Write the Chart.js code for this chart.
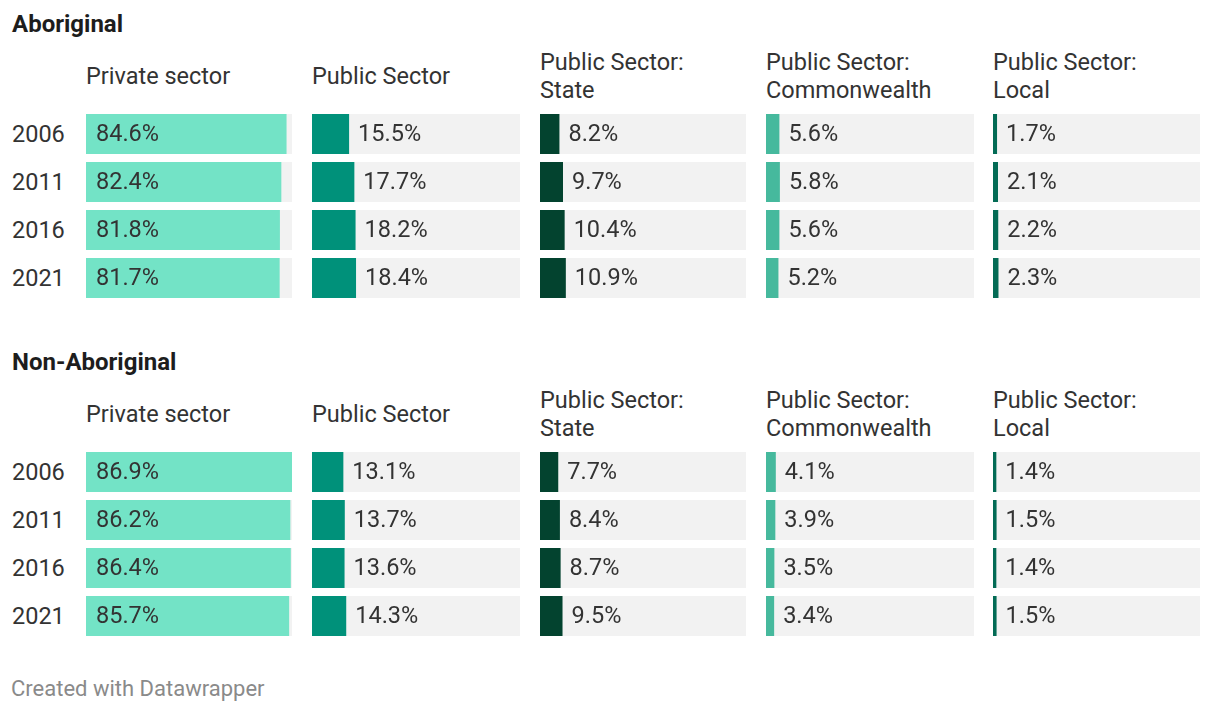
<!DOCTYPE html>
<html>
<head>
<meta charset="utf-8">
<script src="https://cdn.jsdelivr.net/npm/chart.js@4.4.1/dist/chart.umd.min.js"></script>
<style>
    body { margin: 0; background: #fff; font-family: Roboto, sans-serif; }
    #wrap { position: relative; width: 1220px; height: 712px; overflow: hidden; }
    .title { position: absolute; left: 12px; font-weight: 700; font-size: 24px; color: #1d1d1d; line-height: 28px; }
    .head { position: absolute; height: 56px; display: flex; flex-direction: column; justify-content: center; font-size: 23.5px; line-height: 28px; color: #333; white-space: nowrap; }
    .year { position: absolute; left: 12px; font-size: 23.5px; line-height: 28px; color: #333; }
    .cell { position: absolute; }
    .foot { position: absolute; left: 11px; top: 676px; font-size: 22px; line-height: 26px; color: #8a8a8a; }
</style>
</head>
<body>
<div id="wrap"></div>
<script>
// Data
const years = ['2006', '2011', '2016', '2021'];
const groups = ['Aboriginal', 'Non-Aboriginal'];
const sectors = [['Private sector'], ['Public Sector'], ['Public Sector:', 'State'], ['Public Sector:', 'Commonwealth'], ['Public Sector:', 'Local']];
const sectorColors = ['#73e3c6', '#00917a', '#03432f', '#46b99d', '#036b55'];

const aboriginalPrivate = [84.6, 82.4, 81.8, 81.7];
const aboriginalPublic = [15.5, 17.7, 18.2, 18.4];
const aboriginalState = [8.2, 9.7, 10.4, 10.9];
const aboriginalCommonwealth = [5.6, 5.8, 5.6, 5.2];
const aboriginalLocal = [1.7, 2.1, 2.2, 2.3];

const nonAboriginalPrivate = [86.9, 86.2, 86.4, 85.7];
const nonAboriginalPublic = [13.1, 13.7, 13.6, 14.3];
const nonAboriginalState = [7.7, 8.4, 8.7, 9.5];
const nonAboriginalCommonwealth = [4.1, 3.9, 3.5, 3.4];
const nonAboriginalLocal = [1.4, 1.5, 1.4, 1.5];

const groupData = [
    [aboriginalPrivate, aboriginalPublic, aboriginalState, aboriginalCommonwealth, aboriginalLocal],
    [nonAboriginalPrivate, nonAboriginalPublic, nonAboriginalState, nonAboriginalCommonwealth, nonAboriginalLocal]
];

// shared scale across all small bars
const maxValue = Math.max(...groupData.flat(2));

const wrap = document.getElementById('wrap');
const colLeft = [86, 312, 540, 766, 993];
const colWidth = [206, 208, 206, 208, 207];
const rowHeight = 48;

// gray track behind each bar + value labels
const cellPlugin = {
    id: 'cellPlugin',
    beforeDatasetsDraw(chart) {
        const ctx = chart.ctx;
        const area = chart.chartArea;
        ctx.save();
        ctx.fillStyle = '#f2f2f2';
        chart.getDatasetMeta(0).data.forEach(bar => {
            ctx.fillRect(area.left, bar.y - bar.height / 2, area.right - area.left, bar.height);
        });
        ctx.restore();
    },
    afterDatasetsDraw(chart) {
        const ctx = chart.ctx;
        const values = chart.data.datasets[0].data;
        const inside = chart.options.plugins.cellPlugin.inside;
        ctx.save();
        ctx.font = '23.5px Roboto';
        ctx.fillStyle = '#333';
        ctx.textBaseline = 'middle';
        chart.getDatasetMeta(0).data.forEach((bar, i) => {
            const x = inside ? bar.base + 10 : bar.x + 9;
            ctx.fillText(values[i].toFixed(1) + '%', x, bar.y + 1);
        });
        ctx.restore();
    }
};

groups.forEach((name, g) => {
    const top = g * 338;

    const title = document.createElement('div');
    title.className = 'title';
    title.style.top = (10 + top) + 'px';
    title.textContent = name;
    wrap.appendChild(title);

    years.forEach((y, r) => {
        const el = document.createElement('div');
        el.className = 'year';
        el.style.top = (120 + top + r * rowHeight) + 'px';
        el.textContent = y;
        wrap.appendChild(el);
    });

    sectors.forEach((lines, s) => {
        const head = document.createElement('div');
        head.className = 'head';
        head.style.left = colLeft[s] + 'px';
        head.style.top = (48 + top) + 'px';
        lines.forEach(l => {
            const d = document.createElement('div');
            d.textContent = l;
            head.appendChild(d);
        });
        wrap.appendChild(head);

        const cell = document.createElement('div');
        cell.className = 'cell';
        cell.style.left = colLeft[s] + 'px';
        cell.style.top = (110 + top) + 'px';
        cell.style.width = colWidth[s] + 'px';
        cell.style.height = (rowHeight * years.length) + 'px';
        const canvas = document.createElement('canvas');
        cell.appendChild(canvas);
        wrap.appendChild(cell);

        new Chart(canvas, {
            type: 'bar',
            data: {
                labels: years,
                datasets: [{
                    data: groupData[g][s],
                    backgroundColor: sectorColors[s],
                    borderWidth: 0,
                    barPercentage: 40 / 48,
                    categoryPercentage: 1
                }]
            },
            options: {
                indexAxis: 'y',
                responsive: true,
                maintainAspectRatio: false,
                animation: false,
                layout: { padding: 0 },
                scales: {
                    x: { display: false, min: 0, max: maxValue },
                    y: { display: false }
                },
                plugins: {
                    legend: { display: false },
                    tooltip: { enabled: false },
                    cellPlugin: { inside: s === 0 }
                }
            },
            plugins: [cellPlugin]
        });
    });
});

const foot = document.createElement('div');
foot.className = 'foot';
foot.textContent = 'Created with Datawrapper';
wrap.appendChild(foot);
</script>
</body>
</html>
